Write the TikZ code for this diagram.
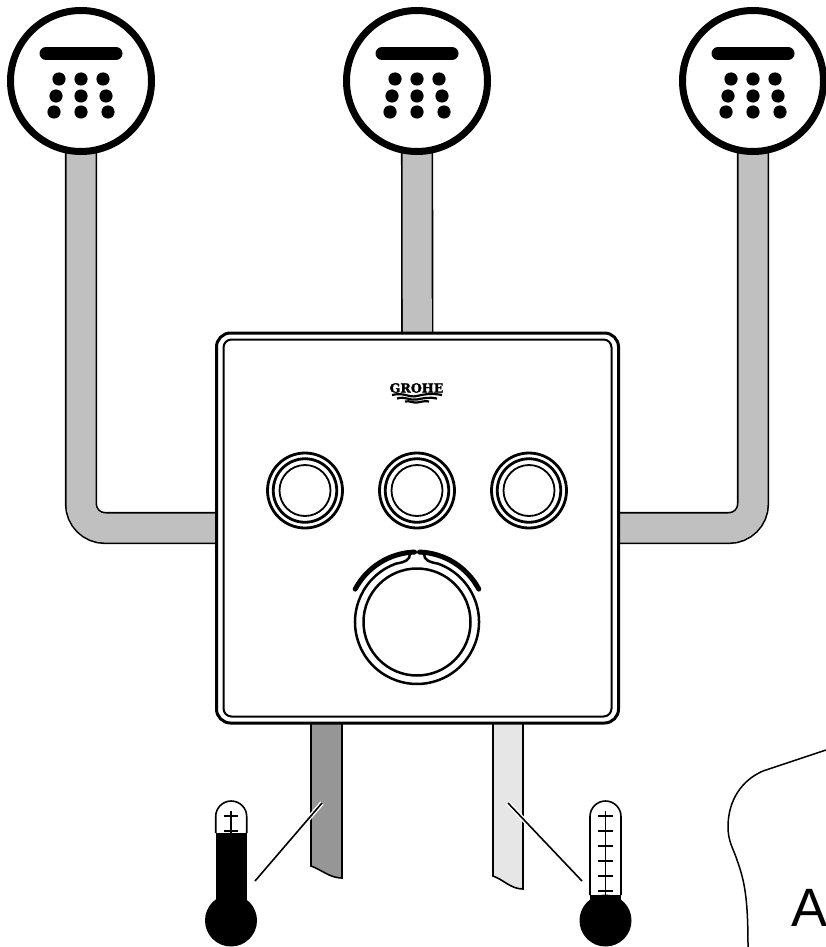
\documentclass[tikz,border=0pt]{standalone}
\usepackage{fontspec}
\setmainfont{Liberation Sans}
\newfontfamily\logofont{DejaVu Serif}[BoldFeatures={FakeBold=2}]
\usetikzlibrary{backgrounds}
\definecolor{softgray}{RGB}{192,192,192}
\definecolor{coldgray}{RGB}{150,150,150}
\definecolor{hotgray}{RGB}{230,230,230}
\begin{document}
\begin{tikzpicture}[
    x=1pt, y=-1pt,
    line join=round,
    head/.style={draw, circle, line width=7pt, fill=white, minimum size=141pt, inner sep=0pt},
    pipe/.style={draw=black, line width=1.6pt, double=softgray, double distance=29pt, rounded corners=24pt},
    tail/.style={draw=black, line width=1.6pt},
    plate/.style={draw, rectangle, fill=white, inner sep=0pt},
    ring/.style={draw, circle, fill=white, inner sep=0pt},
    leader/.style={draw=black, line width=1.6pt, preaction={draw=white, line width=4.5pt}},
    tube/.style={draw=black, line width=1.6pt},
    bulb/.style={circle, fill=black, minimum size=52pt, inner sep=0pt},
    tick/.style={draw=black, line width=1.3pt}
  ]
    \useasboundingbox (0,0) rectangle (826,947);

    \foreach \n/\cx in {1/81,2/417,3/753}{
      \node[head] (head\n) at (\cx,81) {};
      \draw[line width=13pt, line cap=round] (\cx-35,53.5) -- (\cx+35,53.5);
      \foreach \dx/\dy in {-22/79,0/79,22/79,-25/96,0/96,25/96,-27/112,0/112,27/112}
        \fill (\cx+\dx,\dy) circle[radius=6.6pt];
    }

    \node[plate, line width=3pt, rounded corners=14pt, minimum width=402pt, minimum height=390pt] (panel) at (417.5,528) {};
    \node[plate, line width=2pt, rounded corners=8pt, minimum width=388pt, minimum height=377pt] (inner) at (panel.center) {};

    \begin{pgfonlayer}{background}
      \draw[pipe] (head1.center) |- (panel.center);
      \draw[pipe] (head2.center) -- (panel.center);
      \draw[pipe] (head3.center) |- (panel.center);
      \draw[tail, fill=coldgray] (311,723) -- (311,866) .. controls (322,870) and (330,878) .. (342,878) -- (342,723) -- cycle;
      \draw[tail, fill=hotgray] (493,723) -- (493,876) .. controls (504,880) and (511,889) .. (523,889) -- (523,723) -- cycle;
    \end{pgfonlayer}

    \node[inner sep=0pt, font=\logofont\bfseries\fontsize{12.6}{12.6}\selectfont] (logo) at (416.5,388) {GROHE};
    \draw[line width=2.2pt] (392,395) .. controls (405,392) and (408,398) .. (417,396) .. controls (426,394) and (430,393) .. (442,395);
    \draw[line width=2.2pt] (397,398.5) .. controls (406,396) and (410,401) .. (417,399.5) .. controls (424,398) and (430,397) .. (437,398.5);
    \draw[line width=2.2pt] (405,401.5) .. controls (410,400.5) and (413,403) .. (417,402.5) .. controls (421,402) and (425,400.5) .. (429,401.5);

    \foreach \n/\bx in {1/305,2/417,3/529}{
      \node[ring, line width=2.8pt, minimum size=75pt] (btn\n) at (\bx,490.5) {};
      \node[ring, line width=2.8pt, minimum size=63.5pt] (mid\n) at (btn\n.center) {};
      \node[ring, line width=1.8pt, minimum size=51pt] (cap\n) at (btn\n.center) {};
    }

    \node[ring, line width=2.5pt, minimum size=107pt] (knob) at (417,622) {};
    \draw[line width=2.5pt] (410,554) .. controls (410,560) and (405,562) .. (395.8,563.7)
      arc[start angle=110, end angle=430, radius=62pt]
      .. controls (429,562) and (424,560) .. (424,554);
    \draw[line width=5pt, line cap=round] (knob.center) ++(152:70pt) arc[start angle=152, end angle=92, radius=70pt];
    \draw[line width=5pt, line cap=round] (knob.center) ++(88:70pt) arc[start angle=88, end angle=28, radius=70pt];

    \fill (215.7,833) rectangle (246.7,920);
    \draw[tube] (215.7,833) -- (215.7,816.5) arc[start angle=180, end angle=0, radius=15.5pt] -- (246.7,833);
    \node[bulb] (cold) at (231,920.5) {};
    \draw[tick] (231,811) -- (231,833);
    \foreach \ty in {816,831}
      \draw[tick] (224,\ty) -- (238,\ty);

    \fill (590,895) rectangle (621,920);
    \draw[tube] (590,895) -- (590,816.5) arc[start angle=180, end angle=0, radius=15.5pt] -- (621,895);
    \node[bulb] (hot) at (605.5,920.5) {};
    \draw[tick] (605.5,811) -- (605.5,895);
    \foreach \ty in {816,831,846,861,876,891}
      \draw[tick] (598,\ty) -- (613,\ty);

    \coordinate (coldtip) at (322,803);
    \coordinate (coldend) at (255,881);
    \coordinate (hottip) at (508,803);
    \coordinate (hotend) at (582,881);
    \draw[leader] (coldtip) -- (coldend);
    \draw[leader] (hottip) -- (hotend);

    \draw[line width=1.5pt] (826,750) -- (763,771) .. controls (742,780) and (728,800) .. (728,827)
      .. controls (728,842) and (734,850) .. (737,860) .. controls (745,882) and (748,900) .. (748,947);
    \node[anchor=base west, inner sep=0pt, font=\fontsize{54}{54}\selectfont] (lettera) at (791,926) {A};
  \end{tikzpicture}
\end{document}
